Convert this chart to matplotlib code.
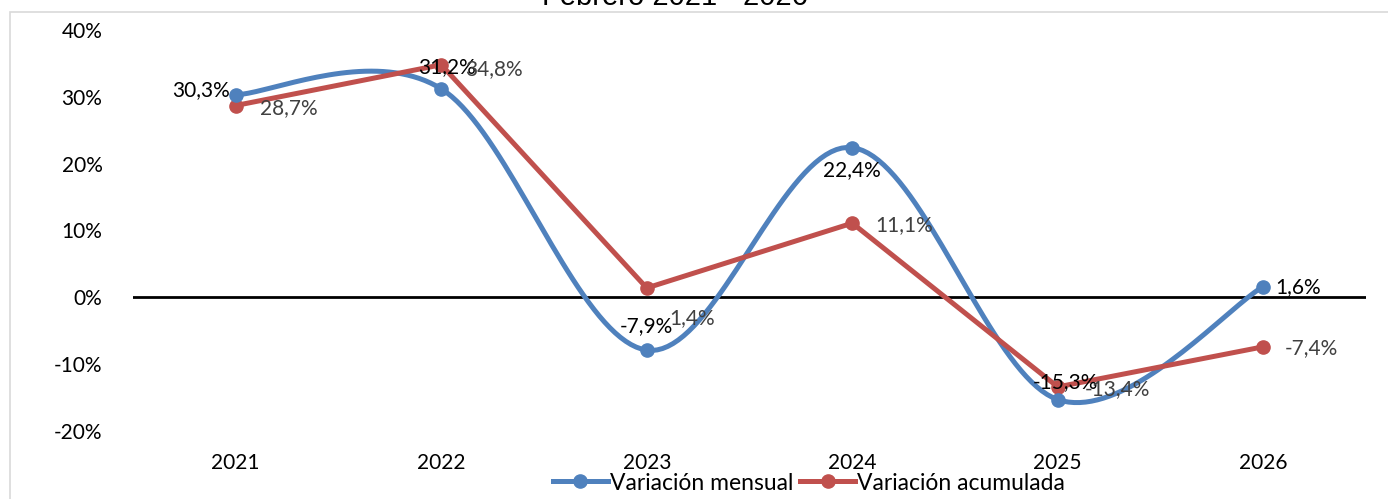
import numpy as np
import matplotlib.pyplot as plt
from matplotlib.patches import Rectangle

years = ["2021", "2022", "2023", "2024", "2025", "2026"]
mensual = [30.3, 31.2, -7.9, 22.4, -15.3, 1.6]
acumulada = [28.7, 34.8, 1.4, 11.1, -13.4, -7.4]

BLUE = "#4F81BD"
RED = "#C0504D"

plt.rcParams['font.family'] = ['Lato', 'DejaVu Sans']


def smooth(xs, ys, n=40):
    # excel-like smoothed line: bezier with catmull-rom control points
    xs = np.asarray(xs, float)
    ys = np.asarray(ys, float)
    px, py = [], []
    m = len(xs)
    for i in range(m - 1):
        i0 = max(i - 1, 0)
        i3 = min(i + 2, m - 1)
        c1x = xs[i] + (xs[i + 1] - xs[i0]) / 6
        c1y = ys[i] + (ys[i + 1] - ys[i0]) / 6
        c2x = xs[i + 1] - (xs[i3] - xs[i]) / 6
        c2y = ys[i + 1] - (ys[i3] - ys[i]) / 6
        t = np.linspace(0, 1, n)
        a, b, c, d = (1 - t) ** 3, 3 * (1 - t) ** 2 * t, 3 * (1 - t) * t ** 2, t ** 3
        px.extend(a * xs[i] + b * c1x + c * c2x + d * xs[i + 1])
        py.extend(a * ys[i] + b * c1y + c * c2y + d * ys[i + 1])
    return px, py


fig = plt.figure(figsize=(13.88, 4.99), dpi=100)
ax = fig.add_axes([133 / 1388, 1 - 431 / 499, (1366 - 133) / 1388, (431 - 30) / 499])

# chart frame
fig.patches.append(Rectangle((10 / 1388, -0.1), 1.2, 1 - 12 / 499 + 0.1, transform=fig.transFigure,
                             fill=False, edgecolor="#D9D9D9", linewidth=1.2))

x = np.arange(len(years))
ax.axhline(0, color="black", lw=2, zorder=1)

LW, MS = 3.6, 9.5
sx, sy = smooth(x, mensual)
ax.plot(sx, sy, color=BLUE, lw=LW, solid_capstyle="round", zorder=3)
ax.plot(x, mensual, "o", color=BLUE, ms=MS, zorder=4)
ax.plot(x, acumulada, "-o", color=RED, lw=LW, ms=MS, zorder=3)

fs = 15
lbl = lambda v: f"{v:.1f}%".replace(".", ",")

# offsets in pixels: (dx, dy, ha)
blue_pos = [(-6, 5, "right"), (6, 22, "center"), (0, 24, "center"),
            (0, -22, "center"), (8, 17, "center"), (12, 0, "left")]
for xi, v, (dx, dy, ha) in zip(x, mensual, blue_pos):
    ax.annotate(lbl(v), (xi, v), xytext=(dx * 0.72, dy * 0.72), textcoords="offset points",
                ha=ha, va="center", fontsize=fs, color="black", zorder=5)

red_pos = [(24, -3, "left"), (24, -4, "left"), (23, -30, "left"),
           (23, -2, "left"), (27, -2, "left"), (22, -1, "left")]
for xi, v, (dx, dy, ha) in zip(x, acumulada, red_pos):
    ax.annotate(lbl(v), (xi, v), xytext=(dx * 0.72, dy * 0.72), textcoords="offset points",
                ha=ha, va="center", fontsize=fs, color="#404040", zorder=5)

ax.set_xlim(-0.5, len(years) - 0.5)
ax.set_ylim(-20, 40)
ax.set_yticks(np.arange(-20, 41, 10))
ax.set_yticklabels([f"{t}%" for t in range(-20, 41, 10)], fontsize=fs)
ax.set_xticks(x)
ax.set_xticklabels(years, fontsize=fs)
ax.tick_params(length=0)
ax.tick_params(axis="x", pad=16)
ax.tick_params(axis="y", pad=22)
for s in ax.spines.values():
    s.set_visible(False)

h1, = ax.plot([], [], "-o", color=BLUE, lw=LW, ms=MS)
h2, = ax.plot([], [], "-o", color=RED, lw=LW, ms=MS)
fig.legend([h1, h2], ["Variación mensual", "Variación acumulada"], loc="center",
           bbox_to_anchor=(809 / 1388, 1 - 483 / 499), ncol=2, frameon=False,
           fontsize=16.5, handlelength=2.4, handletextpad=0.1, columnspacing=0.3,
           borderpad=0, borderaxespad=0)

fig.text(675 / 1388, 1 - 5 / 499, "Febrero 2021 - 2026", ha="center", va="baseline",
         fontsize=21, family=["Liberation Sans", "DejaVu Sans"])

fig.savefig("out.png", dpi=100)
